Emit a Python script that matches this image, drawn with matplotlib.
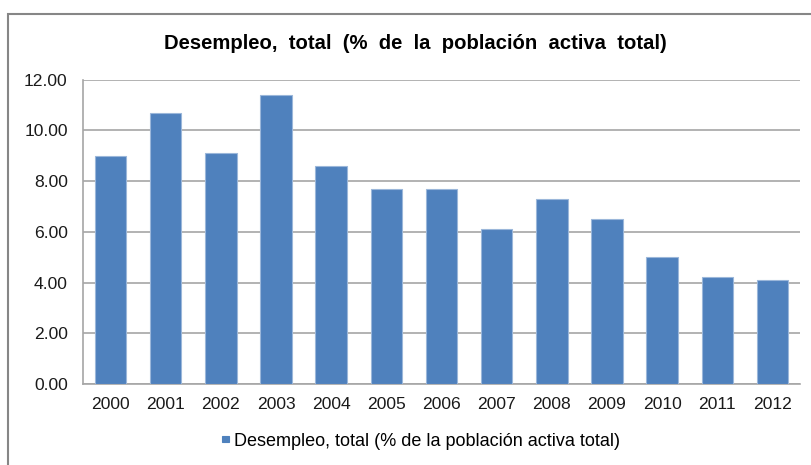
import matplotlib.pyplot as plt
from matplotlib.patches import Rectangle

plt.rcParams['font.family'] = ['Liberation Sans', 'DejaVu Sans']

years = ['2000', '2001', '2002', '2003', '2004', '2005', '2006',
         '2007', '2008', '2009', '2010', '2011', '2012']
desempleo = [9.0, 10.7, 9.1, 11.4, 8.6, 7.7, 7.7, 6.1, 7.3, 6.5, 5.0, 4.2, 4.1]
serie = 'Desempleo, total (% de la población activa total)'

W, H = 811, 465
fig = plt.figure(figsize=(W / 100, H / 100), dpi=100)

# chart border (runs off the right and bottom of the image)
fig.patches.append(Rectangle((8 / W, -0.05), 1.0, 1 - 14 / H + 0.05,
                             transform=fig.transFigure, fill=False,
                             edgecolor='#868686', linewidth=1.5))

ax = fig.add_axes([83 / W, 1 - 384 / H, (800 - 83) / W, (384 - 79.7) / H])
x = range(len(years))
ax.bar(x, desempleo, width=0.57, color='#4F81BD', edgecolor='#9BB7DA',
       linewidth=0.8, label=serie, zorder=3)

ax.set_xlim(-0.5, len(years) - 0.5)
ax.set_ylim(0, 12)
ax.set_yticks([0, 2, 4, 6, 8, 10, 12])
ax.set_yticklabels(['%.2f' % v for v in [0, 2, 4, 6, 8, 10, 12]])
ax.set_xticks(list(x))
ax.set_xticklabels(years)
ax.tick_params(axis='both', length=0, labelsize=12.6, colors='#1a1a1a')
ax.tick_params(axis='y', pad=11)
ax.tick_params(axis='x', pad=9)
ax.grid(axis='y', color='#A6A6A6', linewidth=1.2, zorder=0)

for s in ['top', 'right']:
    ax.spines[s].set_visible(False)
for s in ['left', 'bottom']:
    ax.spines[s].set_color('#A6A6A6')
    ax.spines[s].set_linewidth(1.2)

fig.text(415 / W, 1 - 43 / H, 'Desempleo,  total  (%  de  la  población  activa  total)',
         ha='center', va='center', fontsize=14.6, fontweight='bold')

leg = fig.legend(loc='center', bbox_to_anchor=(421 / W, 1 - 441 / H), frameon=False,
                 fontsize=13, handlelength=0.36, handleheight=0.14, handletextpad=0.3)
for p in leg.get_patches():
    p.set_edgecolor('#4F81BD')

fig.savefig('out.png', dpi=100)
